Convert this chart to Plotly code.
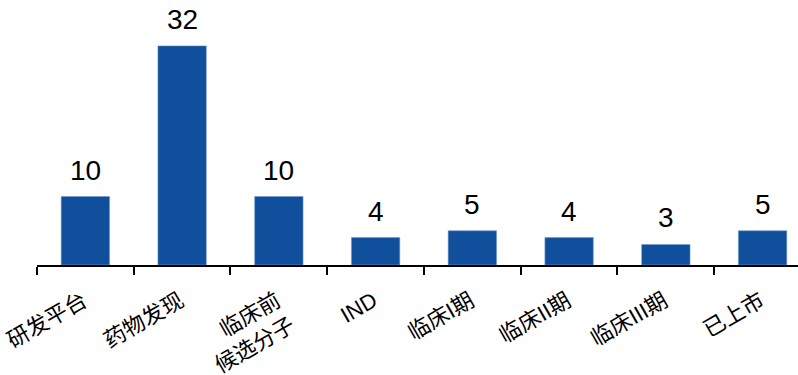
import plotly.graph_objects as go

categories = ["研发平台", "药物发现", "临床前<br>候选分子", "IND", "临床I期", "临床II期", "临床III期", "已上市"]
values = [10, 32, 10, 4, 5, 4, 3, 5]

bar_color = "#0f4f9c"
font_family = "Arial, 'Liberation Sans', 'Noto Sans CJK SC', sans-serif"

fig = go.Figure()
fig.add_trace(go.Bar(
    x=categories,
    y=values,
    width=0.5,
    marker=dict(color=bar_color, line=dict(color="#6f9ad0", width=0.6)),
    hoverinfo="skip",
))

for c, v in zip(categories, values):
    fig.add_annotation(
        x=c, y=v, text=str(v), showarrow=False,
        yanchor="bottom", yshift=9,
        font=dict(family=font_family, size=28, color="#000000"),
    )

fig.update_layout(
    width=798, height=375,
    margin=dict(l=37, r=0, t=0, b=110, autoexpand=False),
    paper_bgcolor="white", plot_bgcolor="white",
    showlegend=False,
    font=dict(family=font_family, color="#000000"),
    xaxis=dict(
        type="category",
        automargin=False,
        range=[-0.5, 7.366],
        tickson="boundaries",
        ticks="outside", ticklen=8, tickwidth=1.5, tickcolor="#000000",
        showline=True, linecolor="#000000", linewidth=1.5,
        showgrid=False, zeroline=False,
        tickangle=-30,
        ticklabelstandoff=13,
        ticklabelshift=-2,
        tickfont=dict(family=font_family, size=22, color="#000000"),
    ),
    yaxis=dict(
        range=[0, 38.7],
        visible=False,
        automargin=False,
        showgrid=False, zeroline=False,
    ),
)

fig.write_html("out.html")
